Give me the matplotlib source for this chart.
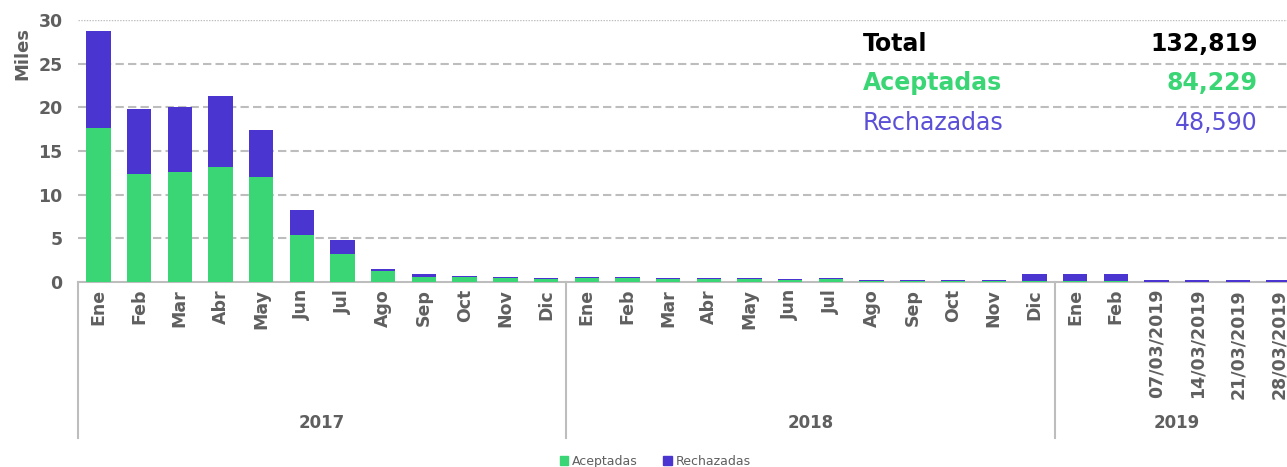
import matplotlib
matplotlib.use("Agg")
import matplotlib.pyplot as plt
import matplotlib.transforms as mtransforms
from matplotlib.patches import Patch

# values in thousands
labels_2017 = ["Ene", "Feb", "Mar", "Abr", "May", "Jun", "Jul", "Ago", "Sep", "Oct", "Nov", "Dic"]
labels_2018 = ["Ene", "Feb", "Mar", "Abr", "May", "Jun", "Jul", "Ago", "Sep", "Oct", "Nov", "Dic"]
labels_2019 = ["Ene", "Feb", "07/03/2019", "14/03/2019", "21/03/2019", "28/03/2019"]

aceptadas_2017 = [17.65, 12.4, 12.6, 13.2, 12.0, 5.4, 3.25, 1.27, 0.62, 0.55, 0.45, 0.4]
rechazadas_2017 = [11.05, 7.45, 7.4, 8.15, 5.45, 2.8, 1.6, 0.23, 0.25, 0.15, 0.17, 0.1]
aceptadas_2018 = [0.45, 0.45, 0.35, 0.35, 0.35, 0.2, 0.35, 0.15, 0.15, 0.15, 0.15, 0.12]
rechazadas_2018 = [0.15, 0.15, 0.15, 0.15, 0.15, 0.12, 0.15, 0.12, 0.12, 0.12, 0.12, 0.75]
aceptadas_2019 = [0.12, 0.12, 0.02, 0.02, 0.02, 0.02]
rechazadas_2019 = [0.75, 0.75, 0.2, 0.2, 0.2, 0.2]

years = ["2017", "2018", "2019"]
summary_labels = ["Total", "Aceptadas", "Rechazadas"]
summary_values = ["132,819", "84,229", "48,590"]

GREEN = "#3ad574"
PURPLE = "#4a35d1"
GREY = "#5f5f5f"
LINE = "#bdbdbd"

labels = labels_2017 + labels_2018 + labels_2019
acc = aceptadas_2017 + aceptadas_2018 + aceptadas_2019
rej = rechazadas_2017 + rechazadas_2018 + rechazadas_2019
group_sizes = [len(labels_2017), len(labels_2018), len(labels_2019)]
x = list(range(len(labels)))

fig = plt.figure(figsize=(12.87, 4.67), dpi=100)
ax = fig.add_axes([78 / 1287, 185 / 467, 1221 / 1287, 262 / 467])

ax.bar(x, acc, width=0.6, color=GREEN, zorder=3)
ax.bar(x, rej, width=0.6, bottom=acc, color=PURPLE, zorder=3)

ax.set_xlim(-0.5, len(labels) - 0.5)
ax.set_ylim(0, 30)
ax.set_yticks([0, 5, 10, 15, 20, 25, 30])
for y in [5, 10, 15, 20, 25]:
    ax.axhline(y, color=LINE, lw=1.5, ls=(0, (4, 2)), zorder=1)
ax.axhline(30, color=LINE, lw=1.0, ls=(0, (1, 1)), zorder=1)

for s in ["top", "right", "left"]:
    ax.spines[s].set_visible(False)
ax.spines["bottom"].set_color(LINE)
ax.spines["bottom"].set_linewidth(1.5)

ax.tick_params(axis="y", length=0, pad=11, labelsize=12.5, labelcolor=GREY)
ax.tick_params(axis="x", length=0, pad=5, labelsize=12.5, labelcolor=GREY)
for t in ax.get_yticklabels():
    t.set_fontweight("bold")
ax.set_xticks(x)
ax.set_xticklabels(labels, rotation=90, fontweight="bold", va="top")

# year group separators and labels
trans = mtransforms.blended_transform_factory(ax.transData, ax.transAxes)
start = 0
bounds = [-0.5]
for n in group_sizes:
    start += n
    bounds.append(start - 0.5)
for b in bounds:
    ax.plot([b, b], [0, -0.595], color=LINE, lw=1.5, transform=trans, clip_on=False)
for i, yr in enumerate(years):
    end = bounds[i + 1] if i < 2 else bounds[i] + 6
    mid = (bounds[i] + end) / 2
    ax.text(mid, -0.54, yr, transform=trans, ha="center", va="center",
            fontsize=12, fontweight="bold", color=GREY)

fig.text(0.017, 1 - 54 / 467, "Miles", rotation=90, ha="center", va="center",
         fontsize=13, fontweight="bold", color=GREY)

# summary box
sum_colors = ["black", GREEN, "#5a4fd6"]
sum_weights = ["bold", "bold", "normal"]
sum_y = [1 - 44 / 467, 1 - 83 / 467, 1 - 123 / 467]
for lab, val, c, w, yy in zip(summary_labels, summary_values, sum_colors, sum_weights, sum_y):
    fig.text(863 / 1287, yy, lab, ha="left", va="center", fontsize=17, fontweight=w, color=c)
    fig.text(1258 / 1287, yy, val, ha="right", va="center", fontsize=17, fontweight=w, color=c)

handles = [Patch(color=GREEN), Patch(color=PURPLE)]
fig.legend(handles, ["Aceptadas", "Rechazadas"], loc="center", bbox_to_anchor=(0.509, 0.012),
           ncol=2, frameon=False, fontsize=9, handlelength=0.7, handleheight=0.7,
           handletextpad=0.3, columnspacing=2.0, labelcolor=GREY)

fig.savefig("out.png", dpi=100)
